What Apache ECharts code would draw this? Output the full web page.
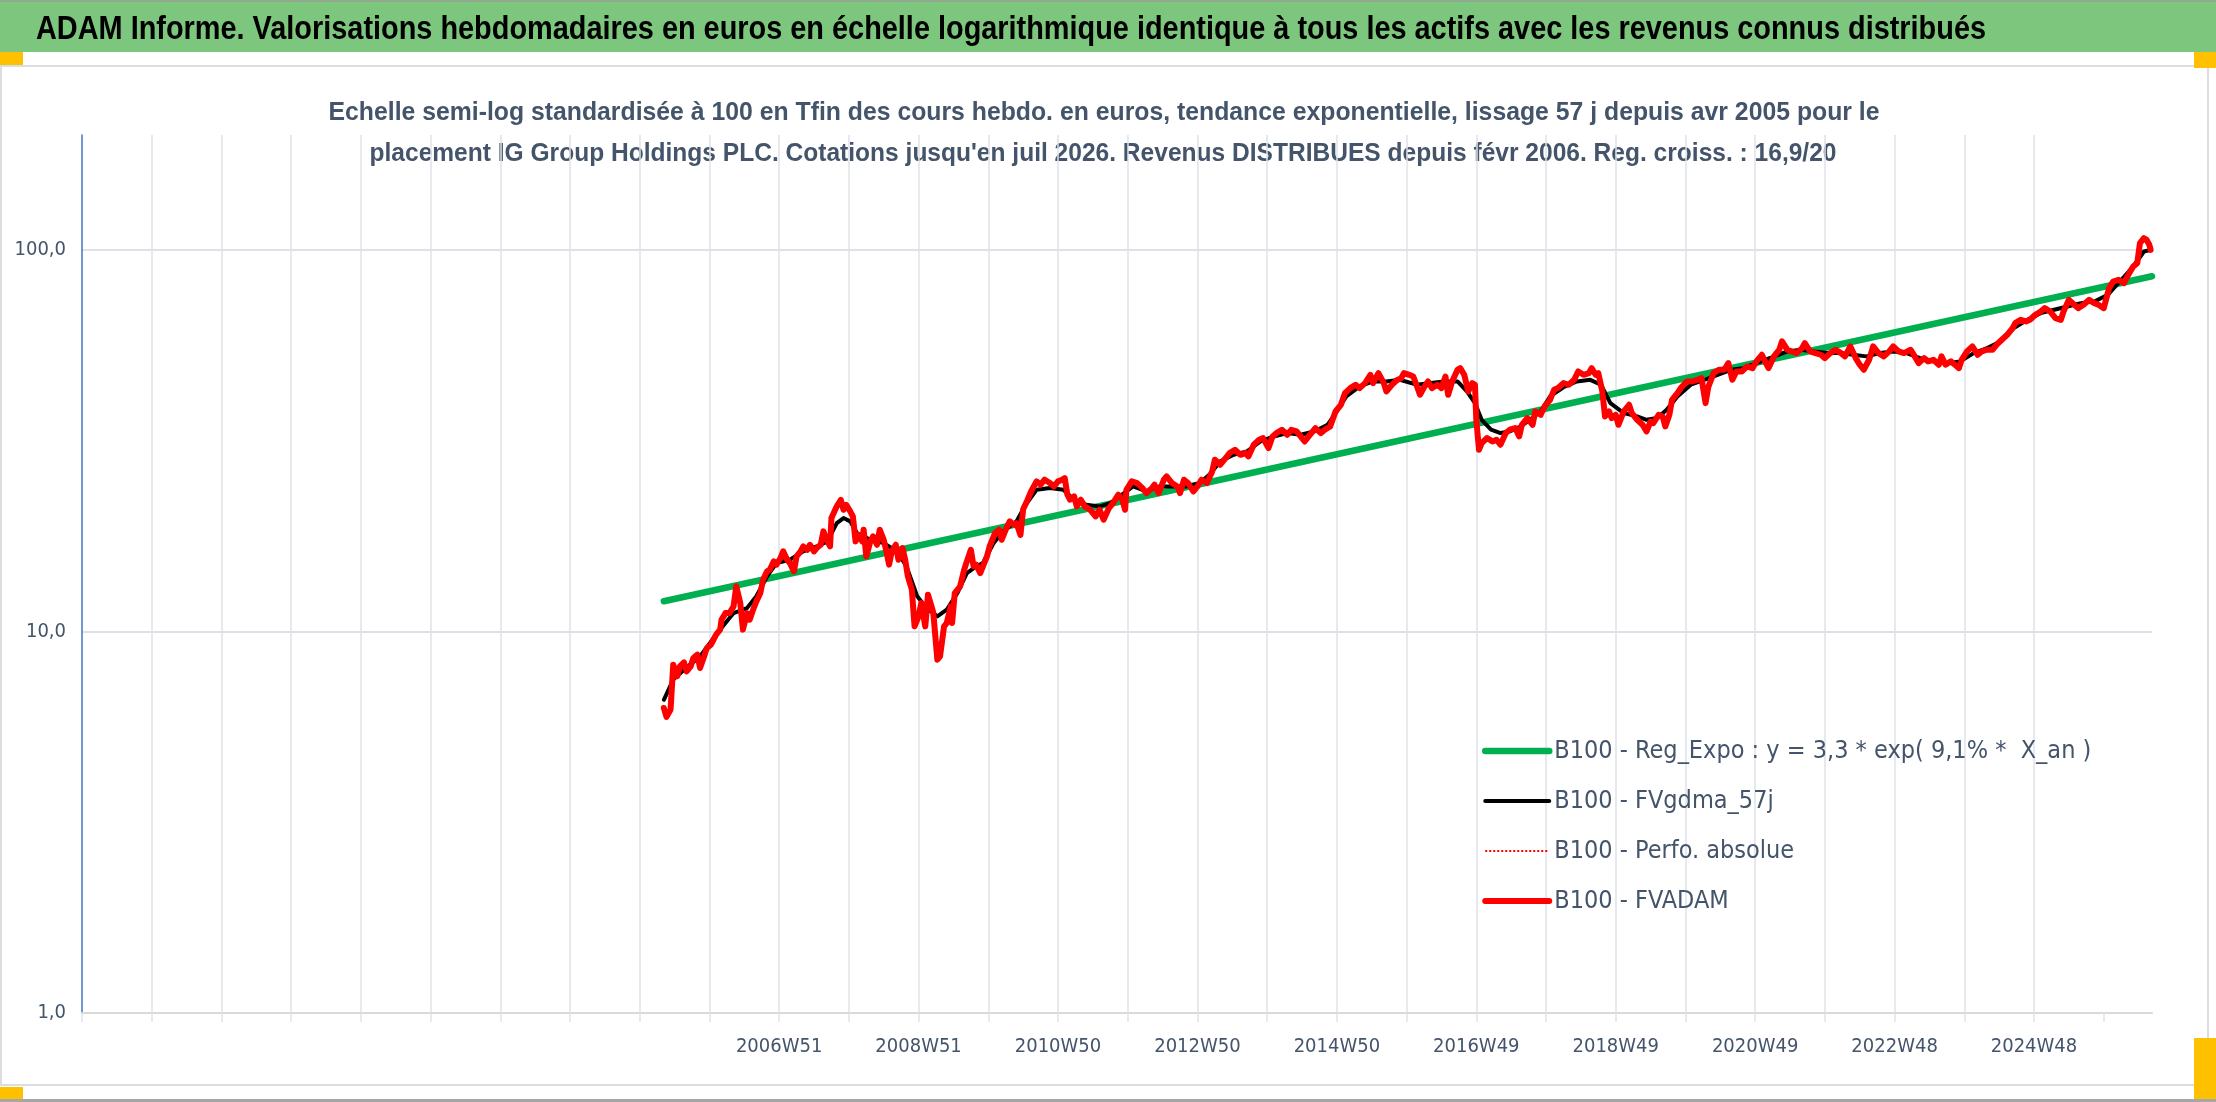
<!DOCTYPE html>
<html><head><meta charset="utf-8">
<script src="https://cdn.jsdelivr.net/npm/echarts@6/dist/echarts.min.js"></script>
<style>html,body{margin:0;padding:0;background:#fff}#c{width:2216px;height:1102px}</style>
</head><body><div id="c"></div>
<script>
const FONT = "'DejaVu Sans Condensed','Liberation Sans',sans-serif";
const TFONT = "'Liberation Sans',Arial,sans-serif";

const mainTitle = "ADAM Informe. Valorisations hebdomadaires en euros en échelle logarithmique identique à tous les actifs avec les revenus connus distribués";
const subTitle1 = "Echelle semi-log standardisée à 100 en Tfin des cours hebdo. en euros, tendance exponentielle, lissage 57 j depuis avr 2005 pour le";
const subTitle2 = "placement IG Group Holdings PLC. Cotations jusqu'en juil 2026. Revenus DISTRIBUES depuis févr 2006. Reg. croiss. : 16,9/20";

const seriesNames = ["B100 - Reg_Expo : y = 3,3 * exp( 9,1% *  X_an )", "B100 - FVgdma_57j", "B100 - Perfo. absolue", "B100 - FVADAM"];

// x = week index on the category axis (one gridline every 52 weeks)
const tickLabels = ["2006W51","2008W51","2010W50","2012W50","2014W50","2016W49","2018W49","2020W49","2022W48","2024W48"];
const labelWeeks = [520,624,728,832,936,1040,1144,1248,1352,1456];
const tickWeeks = [0,52,104,156,208,260,312,364,416,468,520,572,624,676,728,780,832,884,936,988,1040,1092,1144,1196,1248,1300,1352,1404,1456,1508];

const regExpo = [[434,12.0],[1544,85.3]];

const fvgdma = [[434,6.62],[441,7.48],[449,7.94],[461,8.60],[473,9.81],[486,11.17],[496,11.51],[503,12.36],[511,13.94],[518,15.11],[528,15.41],[538,16.21],[548,16.70],[556,17.22],[563,19.23],[568,19.82],[573,19.43],[578,18.10],[588,17.39],[598,17.04],[608,16.21],[615,14.81],[623,12.36],[630,11.51],[638,10.95],[645,11.40],[653,12.61],[660,14.22],[667,14.81],[672,15.11],[680,17.04],[687,18.29],[697,19.43],[704,21.5],[712,23.51],[722,23.75],[732,23.51],[740,22.14],[749,21.48],[759,21.27],[767,21.70],[774,22.59],[784,23.99],[794,23.28],[804,23.99],[814,23.99],[824,23.99],[834,24.48],[842,26.0],[849,27.90],[859,29.04],[869,29.64],[879,31.47],[889,32.43],[899,33.10],[909,32.77],[919,33.43],[929,34.80],[936,37.72],[943,41.29],[953,43.85],[963,45.19],[973,45.19],[983,45.64],[996,44.31],[1006,44.75],[1016,45.19],[1026,45.19],[1033,42.55],[1039,39.66],[1044,35.87],[1051,33.78],[1058,33.11],[1065,33.44],[1073,34.45],[1080,35.87],[1088,37.72],[1095,41.29],[1105,43.65],[1115,45.19],[1125,45.65],[1133,44.31],[1140,39.66],[1150,37.34],[1160,36.60],[1167,35.87],[1175,36.24],[1182,38.10],[1190,41.29],[1200,44.31],[1210,45.65],[1220,47.05],[1230,48.50],[1239,48.98],[1249,50.49],[1259,52.04],[1272,54.19],[1282,54.73],[1292,54.19],[1302,53.64],[1312,53.64],[1321,53.10],[1331,52.58],[1341,53.64],[1351,54.19],[1361,53.64],[1371,52.04],[1381,51.02],[1391,50.49],[1401,51.02],[1411,53.64],[1421,55.28],[1431,57.54],[1441,62.36],[1451,65.57],[1461,68.27],[1471,69.65],[1481,71.07],[1491,72.51],[1501,73.22],[1511,76.23],[1520,82.62],[1530,90.45],[1538,99.0],[1543,100.0]];

const fvadam = [[434,6.30],[436,5.97],[439,6.24],[441,8.18],[444,7.63],[446,8.10],[449,8.30],[451,7.86],[454,8.10],[456,8.52],[459,8.69],[461,8.02],[464,8.60],[466,9.04],[469,9.23],[471,9.51],[473,9.81],[476,10.11],[477,10.73],[480,11.17],[483,11.17],[486,11.63],[488,13.13],[491,11.87],[493,10.11],[496,11.17],[498,10.73],[501,11.51],[503,11.99],[506,12.61],[508,13.66],[511,14.37],[513,14.51],[516,15.26],[518,14.96],[521,15.57],[523,16.21],[526,15.41],[528,15.11],[531,14.37],[533,15.73],[536,16.21],[538,16.70],[541,16.37],[543,16.87],[546,16.21],[548,16.54],[551,16.87],[553,18.29],[556,17.22],[558,16.70],[559,19.82],[563,21.27],[566,22.13],[568,20.84],[570,21.47],[573,20.63],[575,20.02],[577,17.22],[579,17.92],[582,17.22],[583,18.48],[585,15.73],[588,17.22],[590,17.74],[593,16.87],[595,18.48],[598,17.39],[600,16.21],[602,14.96],[604,16.21],[607,16.87],[609,15.41],[612,16.54],[614,15.41],[616,13.94],[619,12.86],[621,10.31],[624,10.95],[626,11.87],[629,10.31],[631,12.48],[634,11.51],[635,11.17],[638,8.43],[640,8.60],[643,10.31],[645,10.52],[648,11.63],[649,10.52],[651,12.61],[655,13.13],[658,14.51],[660,15.26],[663,16.37],[665,14.81],[667,14.96],[670,14.22],[672,14.81],[675,15.73],[677,16.70],[681,18.10],[684,18.48],[686,17.39],[689,18.48],[692,19.43],[695,19.04],[697,19.23],[700,17.9],[702,20.9],[705,22.0],[708,23.3],[712,24.73],[715,24.24],[718,24.98],[722,24.48],[725,23.99],[728,24.73],[731,24.98],[733,25.23],[735,22.82],[737,22.14],[740,22.59],[742,21.27],[745,22.14],[748,21.27],[752,20.84],[756,20.02],[759,20.84],[762,19.63],[766,21.05],[769,21.70],[773,22.82],[776,22.14],[778,20.84],[779,23.51],[783,24.73],[787,24.48],[791,23.75],[794,23.05],[798,23.75],[800,24.24],[803,23.05],[807,24.98],[809,25.48],[813,24.48],[817,23.99],[819,23.05],[822,24.98],[825,24.48],[829,23.28],[832,23.99],[835,24.98],[839,24.48],[843,26.27],[845,28.18],[849,27.35],[853,28.47],[856,29.34],[860,29.93],[864,29.04],[868,29.34],[870,28.75],[874,30.85],[878,31.79],[881,32.11],[885,30.23],[888,32.43],[891,33.10],[895,33.77],[899,32.77],[902,33.77],[906,33.43],[910,32.11],[912,31.47],[916,32.77],[920,34.11],[924,33.10],[927,33.77],[931,34.45],[935,37.72],[939,39.26],[942,42.12],[946,43.42],[950,44.30],[953,43.42],[957,44.74],[961,47.04],[963,44.74],[967,47.52],[971,44.74],[973,42.55],[977,44.30],[981,45.6],[984,46.1],[986,47.53],[990,47.05],[993,46.58],[996,43.65],[998,41.71],[1001,43.65],[1004,45.19],[1007,43.43],[1011,44.31],[1014,43.43],[1017,46.58],[1019,41.71],[1022,45.19],[1026,48.50],[1028,48.98],[1031,47.05],[1034,42.55],[1037,44.75],[1039,44.31],[1040,35.87],[1042,29.93],[1044,31.16],[1048,32.12],[1052,31.48],[1055,31.80],[1058,30.85],[1062,33.11],[1065,33.78],[1069,34.12],[1072,32.44],[1074,34.80],[1078,36.24],[1082,34.80],[1084,37.72],[1088,36.96],[1091,38.87],[1095,40.47],[1098,42.99],[1101,43.43],[1105,44.75],[1109,44.31],[1113,45.65],[1116,48.0],[1120,47.05],[1124,47.53],[1126,48.98],[1129,47.05],[1131,47.53],[1134,42.55],[1136,36.60],[1139,37.72],[1141,36.24],[1144,36.96],[1146,34.80],[1150,37.72],[1154,39.26],[1156,37.34],[1160,35.87],[1164,34.80],[1167,33.44],[1170,35.50],[1172,35.15],[1176,36.96],[1179,36.60],[1181,34.45],[1184,36.96],[1186,40.47],[1190,42.12],[1193,43.65],[1197,45.19],[1201,45.19],[1205,45.65],[1208,46.11],[1211,39.66],[1213,43.65],[1217,47.53],[1221,48.50],[1225,48.50],[1228,50.49],[1231,45.65],[1234,48.00],[1238,48.00],[1242,49.49],[1246,48.98],[1249,51.0],[1253,53.09],[1256,50.5],[1258,48.99],[1262,52.58],[1266,54.73],[1268,57.54],[1272,54.73],[1275,54.19],[1279,53.64],[1283,55.28],[1285,56.97],[1289,54.19],[1293,53.64],[1297,53.10],[1300,52.04],[1304,53.64],[1308,54.73],[1312,53.64],[1315,52.58],[1319,55.84],[1323,52.04],[1326,50.0],[1329,48.52],[1333,51.51],[1336,55.84],[1340,53.64],[1344,52.58],[1348,54.19],[1351,55.84],[1355,54.19],[1359,53.64],[1364,54.73],[1367,52.58],[1370,50.49],[1374,52.04],[1377,51.02],[1381,51.51],[1385,50.0],[1387,52.58],[1390,50.0],[1394,51.02],[1397,50.0],[1400,48.99],[1402,51.51],[1406,54.19],[1410,55.84],[1414,53.10],[1417,54.19],[1421,54.73],[1425,54.73],[1428,56.39],[1432,58.12],[1436,59.90],[1440,62.36],[1442,64.27],[1446,65.57],[1450,64.92],[1453,65.57],[1457,67.58],[1461,68.95],[1464,70.35],[1468,68.95],[1472,66.24],[1476,65.57],[1478,68.95],[1482,73.97],[1486,71.78],[1489,70.35],[1493,71.78],[1497,73.97],[1501,72.51],[1504,71.78],[1508,70.35],[1512,79.37],[1515,82.62],[1519,83.46],[1523,81.80],[1527,86.89],[1530,90.45],[1533,92.27],[1535,104.1],[1538,107.3],[1540,106.2],[1542,103.1],[1543,100.0]];

// Perfo. absolue coincides with FVADAM (hidden under it)
const perfoAbsolue = fvadam;

// squeeze title texts horizontally to the reference's (condensed) widths
const measureCtx = document.createElement('canvas').getContext('2d');
function fitScale(text, font, targetWidth) {
  measureCtx.font = font;
  const w = measureCtx.measureText(text).width;
  return w > 0 ? targetWidth / w : 1;
}
const titleFont = 'bold 33px ' + TFONT;
const subFont = 'bold 26px ' + TFONT;

const chart = echarts.init(document.getElementById('c'), null, {renderer: 'canvas'});
const labelColor = '#44546A';
const gridColor = '#DEE2E8';

chart.setOption({
  animation: false,
  backgroundColor: '#ffffff',
  graphic: [
    {type: 'rect', z: -10, shape: {x: 0, y: 0, width: 2216, height: 2}, style: {fill: '#8FA88F'}},
    {type: 'rect', z: -10, shape: {x: 0, y: 2, width: 2216, height: 50}, style: {fill: '#7DC67D'}},
    {type: 'rect', z: -10, shape: {x: 1, y: 66, width: 2207, height: 1019}, style: {fill: 'none', stroke: '#DADDE2', lineWidth: 2}},
    {type: 'rect', z: -10, shape: {x: 0, y: 1099, width: 2216, height: 3}, style: {fill: '#A6A6A6'}},
    {type: 'rect', shape: {x: 0, y: 52, width: 23, height: 13}, style: {fill: '#FFC000'}},
    {type: 'rect', shape: {x: 2194, y: 52, width: 22, height: 16}, style: {fill: '#FFC000'}},
    {type: 'rect', shape: {x: 2194, y: 1038, width: 22, height: 61}, style: {fill: '#FFC000'}},
    {type: 'rect', shape: {x: 0, y: 1087, width: 23, height: 12}, style: {fill: '#FFC000'}},
    {type: 'text', x: 36, y: 30, scaleX: fitScale(mainTitle, titleFont, 1950),
      style: {text: mainTitle, font: titleFont, fill: '#000000', align: 'left', verticalAlign: 'middle'}},
    {type: 'text', x: 1104, y: 113, scaleX: fitScale(subTitle1, subFont, 1551),
      style: {text: subTitle1, font: subFont, fill: labelColor, align: 'center', verticalAlign: 'middle'}},
    {type: 'text', x: 1103, y: 154, scaleX: fitScale(subTitle2, subFont, 1467),
      style: {text: subTitle2, font: subFont, fill: labelColor, align: 'center', verticalAlign: 'middle'}}
  ],
  grid: {left: 82, right: 64, top: 135, bottom: 89, containLabel: false},
  legend: {
    orient: 'vertical', left: 1477, top: 731,
    itemWidth: 64, itemHeight: 14, itemGap: 20,
    textStyle: {fontFamily: FONT, fontSize: 25, lineHeight: 30, color: labelColor},
    data: [
      {name: seriesNames[0], itemStyle: {opacity: 0}, lineStyle: {width: 6.5, color: '#00B050'}},
      {name: seriesNames[1], itemStyle: {opacity: 0}, lineStyle: {width: 4, color: '#000000'}},
      {name: seriesNames[2], itemStyle: {opacity: 0}, lineStyle: {width: 2, color: '#FF0000', type: 'dotted'}},
      {name: seriesNames[3], itemStyle: {opacity: 0}, lineStyle: {width: 6, color: '#FF0000'}}
    ]
  },
  xAxis: {
    type: 'value', min: 0, max: 1544, interval: 52,
    axisLine: {show: true, lineStyle: {color: '#D9D9D9', width: 2}},
    axisTick: {show: true, length: 9, lineStyle: {color: gridColor, width: 1.5}, customValues: tickWeeks},
    splitLine: {show: true, showMaxLine: false, showMinLine: false, lineStyle: {color: gridColor, width: 1.5}},
    axisLabel: {
      customValues: labelWeeks, margin: 24, fontFamily: FONT, fontSize: 20, color: labelColor,
      formatter: function (v) { const i = labelWeeks.indexOf(v); return i >= 0 ? tickLabels[i] : ''; }
    }
  },
  yAxis: {
    type: 'log', logBase: 10, min: 1, max: 200,
    axisLine: {show: true, lineStyle: {color: '#4472C4', width: 1.5}},
    axisTick: {show: false},
    splitLine: {show: true, showMaxLine: false, showMinLine: false, lineStyle: {color: gridColor, width: 2}},
    axisLabel: {
      margin: 16, fontFamily: FONT, fontSize: 20, color: labelColor, showMaxLabel: false,
      formatter: function (v) { return v >= 150 ? '' : Number(v).toFixed(1).replace('.', ','); }
    }
  },
  series: [
    {name: seriesNames[0], type: 'line', data: regExpo, symbol: 'none', lineStyle: {color: '#00B050', width: 6.5, cap: 'round'}, itemStyle: {color: '#00B050'}},
    {name: seriesNames[1], type: 'line', data: fvgdma, symbol: 'none', lineStyle: {color: '#000000', width: 4, cap: 'round', join: 'round'}, itemStyle: {color: '#000000'}},
    {name: seriesNames[2], type: 'line', data: perfoAbsolue, symbol: 'none', lineStyle: {color: '#FF0000', width: 2, type: 'dotted'}, itemStyle: {color: '#FF0000'}},
    {name: seriesNames[3], type: 'line', data: fvadam, symbol: 'none', lineStyle: {color: '#FF0000', width: 6, cap: 'round', join: 'round'}, itemStyle: {color: '#FF0000'}}
  ]
});
</script>
</body></html>
